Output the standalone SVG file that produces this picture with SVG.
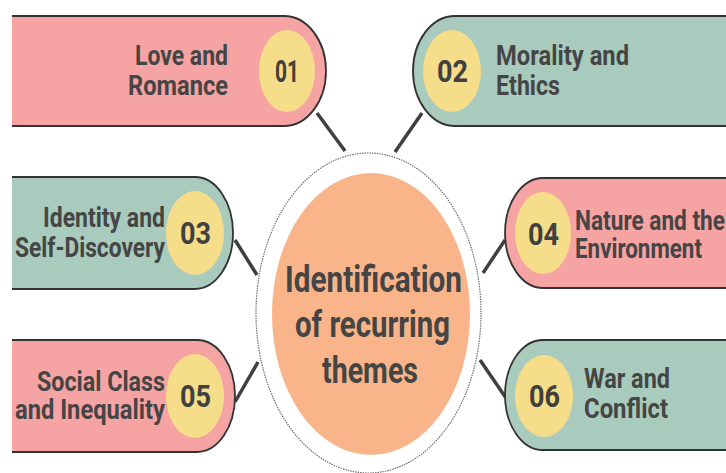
<svg xmlns="http://www.w3.org/2000/svg" width="726" height="473" viewBox="0 0 726 473">
  <style>
    .pink { fill: #F6A3A4; }
    .green { fill: #A8CBBD; }
    .card { stroke: #333333; stroke-width: 1.8; }
    .badge { fill: #F6DD89; }
    .label { font-family: Roboto, "Liberation Sans", sans-serif; font-weight: 700; font-size: 27px; fill: #454545; }
    .num { font-family: Roboto, "Liberation Sans", sans-serif; font-weight: 700; font-size: 31px; fill: #404040; }
    .hub { font-family: Roboto, "Liberation Sans", sans-serif; font-weight: 700; font-size: 37px; fill: #454545; }
    .link { stroke: #404040; stroke-width: 3.5; stroke-linecap: butt; fill: none; }
  </style>

  <rect width="726" height="473" fill="#ffffff"/>

  <!-- connectors between the hub and the theme cards -->
  <g id="connectors">
    <line class="link" x1="317" y1="113" x2="345" y2="151"/>
    <line class="link" x1="422" y1="113" x2="395" y2="152"/>
    <line class="link" x1="235" y1="240" x2="257" y2="275"/>
    <line class="link" x1="505" y1="240" x2="483" y2="273"/>
    <line class="link" x1="235" y1="402" x2="258" y2="362"/>
    <line class="link" x1="480" y1="360" x2="506" y2="398"/>
  </g>

  <!-- central hub -->
  <g id="hub">
    <ellipse cx="368.5" cy="313" rx="112.5" ry="160" fill="#ffffff" stroke="#707070" stroke-width="1.2" stroke-dasharray="1.5 1"/>
    <ellipse cx="371" cy="314" rx="99" ry="141" fill="#F9B589"/>
    <text class="hub" x="285" y="292" textLength="177" lengthAdjust="spacingAndGlyphs">Identification</text>
    <text class="hub" x="295" y="337" textLength="155" lengthAdjust="spacingAndGlyphs">of recurring</text>
    <text class="hub" x="322" y="383" textLength="96" lengthAdjust="spacingAndGlyphs">themes</text>
  </g>

  <!-- 01 -->
  <g id="theme-01">
    <path class="card pink" d="M12,16 H284 A42,55 0 0 1 284,126 H12"/>
    <ellipse class="badge" cx="287" cy="71" rx="28" ry="41"/>
    <text class="num" x="275" y="82" textLength="24" lengthAdjust="spacingAndGlyphs">01</text>
    <text class="label" x="135" y="65" textLength="93" lengthAdjust="spacingAndGlyphs">Love and</text>
    <text class="label" x="128" y="95" textLength="100" lengthAdjust="spacingAndGlyphs">Romance</text>
  </g>

  <!-- 02 -->
  <g id="theme-02">
    <path class="card green" d="M740,16 H455 A42,55 0 0 0 455,126 H740"/>
    <ellipse class="badge" cx="452" cy="71" rx="29" ry="41"/>
    <text class="num" x="437" y="82" textLength="31" lengthAdjust="spacingAndGlyphs">02</text>
    <text class="label" x="496" y="65" textLength="133" lengthAdjust="spacingAndGlyphs">Morality and</text>
    <text class="label" x="496" y="95" textLength="64" lengthAdjust="spacingAndGlyphs">Ethics</text>
  </g>

  <!-- 03 -->
  <g id="theme-03">
    <path class="card green" d="M12,177 H195 A38,56 0 0 1 195,289 H12"/>
    <ellipse class="badge" cx="195" cy="233" rx="29" ry="42"/>
    <text class="num" x="180" y="244" textLength="31" lengthAdjust="spacingAndGlyphs">03</text>
    <text class="label" x="43" y="227" textLength="122" lengthAdjust="spacingAndGlyphs">Identity and</text>
    <text class="label" x="15" y="257" textLength="150" lengthAdjust="spacingAndGlyphs">Self-Discovery</text>
  </g>

  <!-- 04 -->
  <g id="theme-04">
    <path class="card pink" d="M740,178 H543 A38,55 0 0 0 543,288 H740"/>
    <ellipse class="badge" cx="543" cy="233" rx="28" ry="41"/>
    <text class="num" x="528" y="245" textLength="31" lengthAdjust="spacingAndGlyphs">04</text>
    <text class="label" x="575" y="230" textLength="150" lengthAdjust="spacingAndGlyphs">Nature and the</text>
    <text class="label" x="575" y="258" textLength="127" lengthAdjust="spacingAndGlyphs">Environment</text>
  </g>

  <!-- 05 -->
  <g id="theme-05">
    <path class="card pink" d="M12,340 H197 A38,56 0 0 1 197,452 H12"/>
    <ellipse class="badge" cx="195" cy="396" rx="29" ry="42"/>
    <text class="num" x="180" y="407" textLength="31" lengthAdjust="spacingAndGlyphs">05</text>
    <text class="label" x="37" y="391" textLength="128" lengthAdjust="spacingAndGlyphs">Social Class</text>
    <text class="label" x="15" y="419" textLength="150" lengthAdjust="spacingAndGlyphs">and Inequality</text>
  </g>

  <!-- 06 -->
  <g id="theme-06">
    <path class="card green" d="M740,340 H543 A38,55 0 0 0 543,450 H740"/>
    <ellipse class="badge" cx="544" cy="396" rx="29" ry="41"/>
    <text class="num" x="529" y="407" textLength="31" lengthAdjust="spacingAndGlyphs">06</text>
    <text class="label" x="584" y="388" textLength="86" lengthAdjust="spacingAndGlyphs">War and</text>
    <text class="label" x="584" y="418" textLength="84" lengthAdjust="spacingAndGlyphs">Conflict</text>
  </g>
</svg>
